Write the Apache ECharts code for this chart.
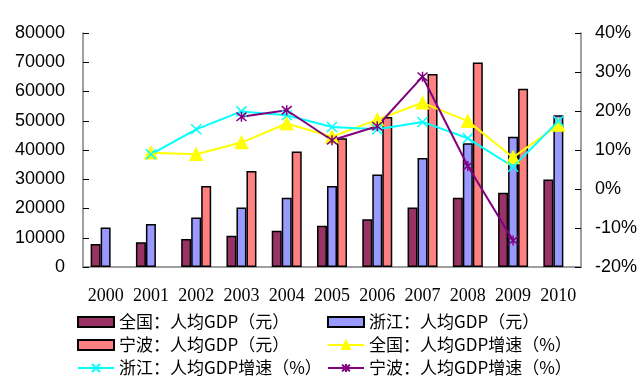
<!DOCTYPE html>
<html>
<head>
<meta charset="utf-8">
<script src="https://cdn.jsdelivr.net/npm/echarts@6/dist/echarts.min.js"></script>
<style>
html,body{margin:0;padding:0;background:#fff;}
#c{width:641px;height:380px;}
</style>
</head>
<body>
<div id="c"></div>
<script>
var years = ['2000','2001','2002','2003','2004','2005','2006','2007','2008','2009','2010'];
var chinaGdp = [7900, 8500, 9600, 10700, 12400, 14100, 16300, 20300, 23700, 25400, 29900];
var zhejiangGdp = [13500, 14700, 16900, 20300, 23700, 27700, 31600, 37300, 42300, 44500, 51900];
var ningboGdp = [null, null, 27700, 32800, 39500, 44000, 51300, 66000, 69900, 60900, null];
var chinaRate = [null, 9.3, 8.9, 11.9, 16.8, 13.4, 17.8, 22.1, 17.4, 8.1, 16.4];
var zhejiangRate = [null, 8.9, 15.3, 19.9, 18.9, 15.9, 15.3, 17.2, 13.0, 5.7, 17.4];
var ningboRate = [null, null, null, 18.5, 20.2, 12.5, 16.1, 28.8, 5.9, -13.2, null];
var leftTicks = [0, 80000, 10000];
var rightTicks = [-20, 40, 10];

var names = ['全国：人均GDP（元）','浙江：人均GDP（元）','宁波：人均GDP（元）','全国：人均GDP增速（%）','浙江：人均GDP增速（%）','宁波：人均GDP增速（%）'];

var chart = echarts.init(document.getElementById('c'), null, {renderer:'canvas'});
var axisColor = '#7f7f7f';
var cjk = '"Noto Sans CJK SC", sans-serif';
var xPath = 'path://M0,0L10,10M10,0L0,10';
var starPath = 'path://M0,0L10,10M10,0L0,10M5,-1L5,11';

function barSeries(name, data, color){
  return {name:name, type:'bar', yAxisIndex:0, data:data, barWidth:10, barGap:'0%',
    itemStyle:{color:color, borderColor:'#000', borderWidth:1.5}, z:2};
}
function lineSeries(name, data, color, symbol, size){
  return {name:name, type:'line', yAxisIndex:1, data:data, symbol:symbol, symbolSize:size,
    showSymbol:true, connectNulls:false,
    lineStyle:{color:color, width:2}, itemStyle:{color:color, borderColor:color, borderWidth:1.5}, z:5};
}
var legendText = {fontFamily:cjk, fontSize:17, color:'#000', lineHeight:20};
function leg(name, left, top, icon){
  var d = {name:name};
  if (icon) d.icon = icon;
  return {left:left, top:top, itemWidth:36, itemHeight:10, itemGap:5, padding:0,
    textStyle:legendText, data:[d]};
}

chart.setOption({
  animation:false,
  backgroundColor:'#fff',
  grid:{left:83, right:60, top:33, bottom:113},
  legend:[
    leg(names[0], 77, 312, 'rect'),
    leg(names[1], 327, 312, 'rect'),
    leg(names[2], 77, 335, 'rect'),
    leg(names[3], 327, 335),
    leg(names[4], 77, 358),
    leg(names[5], 327, 358)
  ],
  xAxis:{type:'category', data:years, boundaryGap:true,
    axisLine:{lineStyle:{color:axisColor, width:1.5}},
    axisTick:{inside:true, length:6, interval:0, lineStyle:{color:'#000'}},
    axisLabel:{interval:0, margin:20, color:'#000', fontFamily:'"Liberation Serif", serif', fontSize:18}
  },
  yAxis:[
    {type:'value', min:leftTicks[0], max:leftTicks[1], interval:leftTicks[2], position:'left',
      axisLine:{show:true, lineStyle:{color:axisColor, width:1.5}},
      axisTick:{show:true, inside:true, length:6, lineStyle:{color:'#000'}},
      splitLine:{show:false},
      axisLabel:{margin:18, color:'#000', fontFamily:'"Liberation Sans", Arial, sans-serif', fontSize:18,
        formatter:function(v){return String(v);}}
    },
    {type:'value', min:rightTicks[0], max:rightTicks[1], interval:rightTicks[2], position:'right',
      axisLine:{show:true, lineStyle:{color:axisColor, width:1.5}},
      axisTick:{show:true, inside:true, length:6, lineStyle:{color:'#000'}},
      splitLine:{show:false},
      axisLabel:{margin:14, color:'#000', fontFamily:'"Liberation Sans", Arial, sans-serif', fontSize:18, formatter:'{value}%'}
    }
  ],
  series:[
    barSeries(names[0], chinaGdp, '#993366'),
    barSeries(names[1], zhejiangGdp, '#9999FF'),
    barSeries(names[2], ningboGdp, '#FF8080'),
    lineSeries(names[3], chinaRate, '#FFFF00', 'triangle', 12),
    lineSeries(names[4], zhejiangRate, '#00FFFF', xPath, 10),
    lineSeries(names[5], ningboRate, '#800080', starPath, 10)
  ]
});
</script>
</body>
</html>
